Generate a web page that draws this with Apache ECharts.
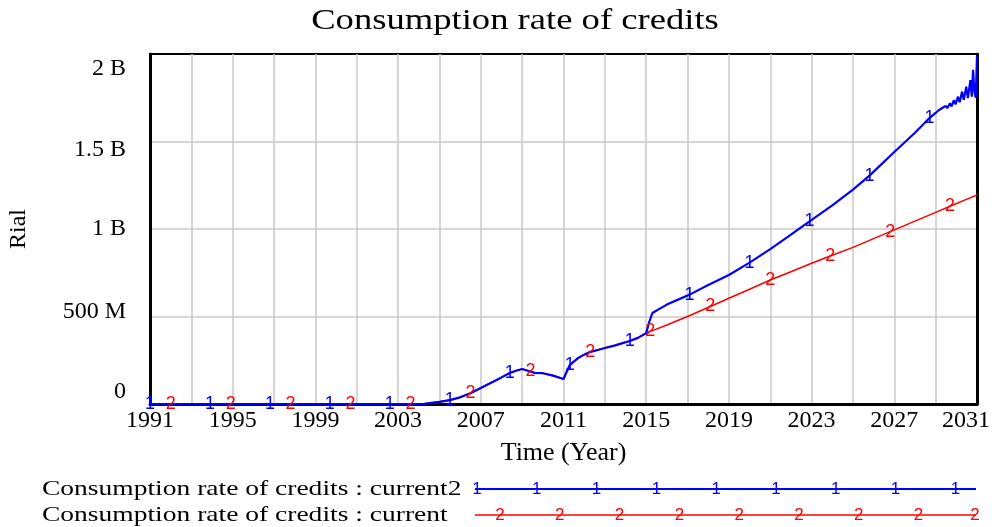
<!DOCTYPE html>
<html>
<head>
<meta charset="utf-8">
<script src="https://cdn.jsdelivr.net/npm/echarts@6/dist/echarts.min.js"></script>
<style>
  html, body { margin: 0; padding: 0; background: #fff; }
  #chart { width: 1003px; height: 527px; }
</style>
</head>
<body>
<div id="chart"></div>
<script>
// Values are in millions of rial.
// Both runs share the same history up to 2015.
const historyYears = [1991, 1992, 1993.9, 1994.9, 1996.8, 1997.8, 1999.7, 2000.7, 2002.6, 2003.6,
  2004.2, 2004.6, 2005, 2005.5, 2006, 2006.5, 2007, 2007.5, 2008, 2008.4, 2008.7, 2009, 2009.4,
  2009.6, 2010, 2010.5, 2011, 2011.3, 2011.7, 2012, 2012.3, 2012.7, 2013, 2013.5, 2014.2, 2014.6, 2015];
const historyValues = [0, 0, 0, 0, 0, 0, 0, 0, 0, 0,
  0, 6, 12, 22, 38, 62, 92, 122, 152, 177, 190, 200, 186,
  178, 176, 162, 143, 222, 262, 282, 298, 310, 320, 335, 360, 378, 405];

// Run "current2" after 2015
const current2Years = [2015.15, 2015.3, 2015.7, 2016, 2017.1, 2018, 2019, 2020, 2021, 2022, 2022.9,
  2024, 2025, 2025.8, 2027, 2028, 2028.7, 2029, 2029.12, 2029.2, 2029.3, 2029.38, 2029.48, 2029.56,
  2029.69, 2029.77, 2029.88, 2029.96, 2030.08, 2030.16, 2030.28, 2030.36, 2030.48, 2030.56, 2030.68,
  2030.75, 2030.81, 2030.87, 2030.94, 2031];
const current2Values = [470, 520, 548, 568, 625, 680, 737, 808, 885, 968, 1043,
  1135, 1225, 1305, 1440, 1550, 1634, 1663, 1676, 1668, 1690, 1679, 1704, 1690,
  1718, 1700, 1737, 1712, 1756, 1725, 1785, 1738, 1813, 1748, 1851,
  1756, 1909, 1790, 1750, 1990];

// Run "current" after 2015
const currentYears = [2015.2, 2016, 2017, 2018.1, 2019, 2020, 2021, 2022, 2023, 2023.9,
  2025, 2026, 2026.8, 2028, 2029, 2029.7, 2030.4, 2031];
const currentValues = [415, 452, 500, 557, 604, 656, 708, 756, 804, 846,
  895, 945, 985, 1045, 1095, 1130, 1165, 1194];

// Where the run numbers are written along each curve
const current2MarkerYears = [1991, 1993.9, 1996.8, 1999.7, 2002.6, 2005.5, 2008.4, 2011.3,
  2014.2, 2017.1, 2020, 2022.9, 2025.8, 2028.7];
const currentMarkerYears = [1992, 1994.9, 1997.8, 2000.7, 2003.6, 2006.5, 2009.4, 2012.3,
  2015.2, 2018.1, 2021, 2023.9, 2026.8, 2029.7];

const yTickLabels = ['0', '500 M', '1 B', '1.5 B', '2 B'];
const seriesNames = ['Consumption rate of credits : current2', 'Consumption rate of credits : current'];
const runNumbers = ['1', '2'];
const chartTitle = 'Consumption rate of credits';

const BLUE = '#0000ff';
const RED = '#ff0000';
const SERIF = '"Liberation Serif", "Times New Roman", serif';
const SANS = '"Liberation Sans", Arial, sans-serif';
const AXIS_FONT = 24;

function pairs(xs, ys) { return xs.map((x, i) => [x, ys[i]]); }
const current2Data = pairs(historyYears.concat(current2Years), historyValues.concat(current2Values));
const currentData = pairs(historyYears.concat(currentYears), historyValues.concat(currentValues));
function markersFrom(data, years) { return data.filter(p => years.includes(p[0])); }

function markerSeries(data, text, color) {
  return {
    type: 'scatter', data: data, symbol: 'circle', symbolSize: 1, z: 5,
    itemStyle: { opacity: 0 }, silent: true,
    label: { show: true, position: 'inside', formatter: text, color: color,
             fontFamily: SANS, fontSize: 18, opacity: 1 }
  };
}

// Title and legend rows, in the wide serif lettering of the original plot
const graphics = [{
  type: 'text', x: 515, y: 21, scaleX: 1.22,
  style: { text: chartTitle, font: '30px ' + SERIF, fill: '#000', align: 'center', verticalAlign: 'middle' }
}];
const legendRows = [
  { y: 489, color: BLUE, num: runNumbers[0], first: 477, width: 2 },
  { y: 515, color: RED, num: runNumbers[1], first: 500, width: 1.5 }
];
legendRows.forEach((row, r) => {
  graphics.push({
    type: 'text', x: 42, y: row.y, scaleX: 1.31,
    style: { text: seriesNames[r], font: '21px ' + SERIF, fill: '#000', align: 'left', verticalAlign: 'middle' }
  });
  graphics.push({
    type: 'line', shape: { x1: 475, y1: row.y, x2: 976, y2: row.y },
    style: { stroke: row.color, lineWidth: row.width }
  });
  for (let k = 0; k < 9; k++) {
    const cx = Math.min(row.first + k * 59.8, 975);
    graphics.push({
      type: 'text', x: cx, y: row.y,
      style: { text: row.num, font: '17px ' + SANS, fill: row.color, align: 'center', verticalAlign: 'middle' }
    });
  }
});

const yShift = { 0: 'a0', 500: 'a1', 1000: 'a2', 1500: 'a3', 2000: 'a4' };
const gridLine = { show: true, showMinLine: false, showMaxLine: false, lineStyle: { color: '#c8c8c8', width: 1.5 } };
const labelText = { fontFamily: SERIF, fontSize: AXIS_FONT, color: '#000' };

const chart = echarts.init(document.getElementById('chart'), null, { renderer: 'canvas' });
chart.setOption({
  animation: false,
  backgroundColor: '#fff',
  grid: { left: 150, right: 26, top: 54, bottom: 123, show: true, borderColor: '#000', borderWidth: 2,
          containLabel: false, outerBoundsMode: 'none' },
  xAxis: [{
    type: 'value', min: 1991, max: 2031, interval: 2,
    name: 'Time (Year)', nameLocation: 'middle', nameGap: 36,
    nameTextStyle: { fontFamily: SERIF, fontSize: 26, color: '#000' },
    axisLine: { show: true, lineStyle: { color: '#000', width: 3 } },
    axisTick: { show: false },
    splitLine: gridLine,
    axisLabel: Object.assign({
      margin: 5,
      formatter: v => ((v - 1991) % 4 === 0 ? (v === 2031 ? '{e|' + v + '}' : String(v)) : ''),
      rich: { e: Object.assign({ padding: [0, 22, 0, 0] }, labelText) }
    }, labelText)
  }, {
    type: 'value', position: 'top', min: 1991, max: 2031,
    axisLine: { show: true, lineStyle: { color: '#000', width: 2 } },
    axisTick: { show: false }, axisLabel: { show: false }, splitLine: { show: false }
  }],
  yAxis: [{
    type: 'value', min: 0, max: 2000, interval: 500,
    name: 'Rial', nameLocation: 'middle', nameGap: 119, nameRotate: 90,
    nameTextStyle: { fontFamily: SERIF, fontSize: 24, color: '#000' },
    axisLine: { show: true, lineStyle: { color: '#000', width: 3 } },
    axisTick: { show: false },
    splitLine: gridLine,
    axisLabel: Object.assign({
      margin: 24,
      formatter: v => '{' + yShift[v] + '|' + yTickLabels[v / 500] + '}',
      rich: {
        a0: Object.assign({ padding: [0, 0, 24, 0] }, labelText),
        a1: Object.assign({ padding: [0, 0, 10, 0] }, labelText),
        a2: Object.assign({}, labelText),
        a3: Object.assign({ padding: [16, 0, 0, 0] }, labelText),
        a4: Object.assign({ padding: [30, 0, 0, 0] }, labelText)
      }
    }, labelText)
  }, {
    type: 'value', position: 'right', min: 0, max: 2000,
    axisLine: { show: true, lineStyle: { color: '#000', width: 3 } },
    axisTick: { show: false }, axisLabel: { show: false }, splitLine: { show: false }
  }],
  series: [
    { name: seriesNames[1], type: 'line', data: currentData, showSymbol: false, z: 2,
      lineStyle: { color: RED, width: 1.6 }, itemStyle: { color: RED } },
    { name: seriesNames[0], type: 'line', data: current2Data, showSymbol: false, z: 3,
      lineStyle: { color: BLUE, width: 2.2 }, itemStyle: { color: BLUE } },
    markerSeries(markersFrom(current2Data, current2MarkerYears), runNumbers[0], BLUE),
    markerSeries(markersFrom(currentData, currentMarkerYears), runNumbers[1], RED)
  ],
  graphic: graphics
});
</script>
</body>
</html>
